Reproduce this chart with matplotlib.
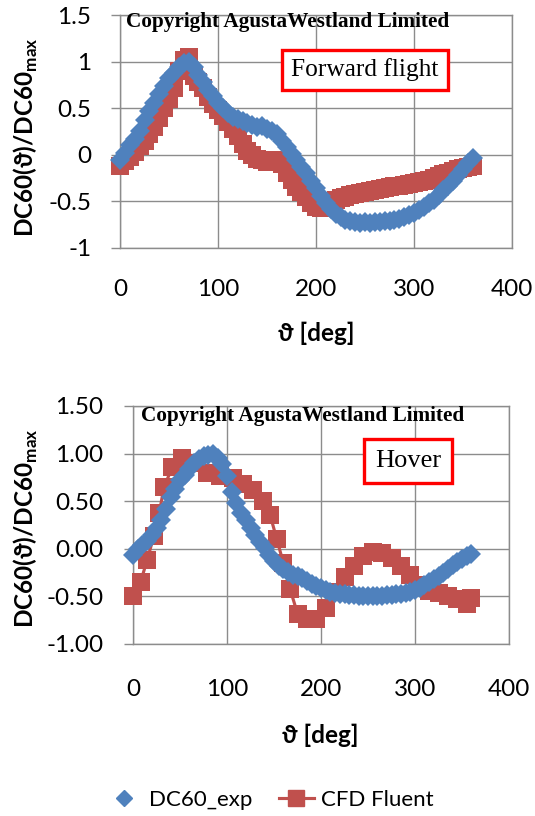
import matplotlib
matplotlib.use("Agg")
import matplotlib.pyplot as plt
from matplotlib.lines import Line2D

plt.rcParams['font.family'] = ['Lato', 'DejaVu Sans']
plt.rcParams['mathtext.fontset'] = 'custom'
plt.rcParams['mathtext.rm'] = 'Lato'
plt.rcParams['mathtext.bf'] = 'Lato:bold'

# ---------------- data ----------------
ff_exp_x = list(range(0, 361, 5))
ff_exp_y = [-0.06, 0.02, 0.10, 0.17, 0.26, 0.37, 0.47, 0.56, 0.65, 0.74,
            0.82, 0.88, 0.94, 0.98, 1.00, 0.94, 0.86, 0.78, 0.70, 0.63,
            0.56, 0.50, 0.45, 0.41, 0.38, 0.36, 0.34, 0.32, 0.30, 0.31,
            0.28, 0.26, 0.22, 0.15, 0.08, 0.01, -0.06, -0.13, -0.20, -0.28,
            -0.36, -0.44, -0.52, -0.58, -0.63, -0.67, -0.70, -0.71, -0.72, -0.73,
            -0.72, -0.73, -0.72, -0.72, -0.71, -0.71, -0.70, -0.69, -0.67, -0.65,
            -0.62, -0.59, -0.56, -0.52, -0.48, -0.43, -0.38, -0.33, -0.28, -0.22,
            -0.15, -0.09, -0.03]

ff_cfd_x = list(range(0, 361, 5))
ff_cfd_y = [-0.12, -0.07, -0.02, 0.03, 0.09, 0.15, 0.22, 0.30, 0.40, 0.50,
            0.60, 0.72, 0.90, 1.02, 1.05, 0.85, 0.78, 0.72, 0.62, 0.54,
            0.48, 0.42, 0.35, 0.28, 0.20, 0.12, 0.04, 0.00, -0.04, -0.06,
            -0.08, -0.08, -0.06, -0.10, -0.20, -0.27, -0.35, -0.40, -0.45, -0.52,
            -0.56, -0.57, -0.55, -0.50, -0.48, -0.46, -0.45, -0.43, -0.42, -0.41,
            -0.40, -0.39, -0.38, -0.37, -0.36, -0.35, -0.34, -0.33, -0.32, -0.31,
            -0.30, -0.29, -0.28, -0.27, -0.25, -0.23, -0.21, -0.19, -0.17, -0.15,
            -0.14, -0.13, -0.12]

hv_exp_x = list(range(0, 361, 5))
hv_exp_y = [-0.06, 0.00, 0.04, 0.08, 0.14, 0.22, 0.30, 0.42, 0.54, 0.63,
            0.72, 0.78, 0.84, 0.90, 0.94, 0.97, 0.99, 1.00, 0.95, 0.89,
            0.76, 0.60, 0.48, 0.38, 0.30, 0.22, 0.14, 0.07, 0.01, -0.06,
            -0.13, -0.18, -0.21, -0.24, -0.27, -0.29, -0.31, -0.34, -0.37, -0.39,
            -0.41, -0.43, -0.45, -0.46, -0.47, -0.48, -0.49, -0.49, -0.50, -0.50,
            -0.50, -0.50, -0.50, -0.50, -0.49, -0.49, -0.48, -0.47, -0.46, -0.45,
            -0.43, -0.41, -0.38, -0.35, -0.32, -0.29, -0.25, -0.21, -0.17, -0.14,
            -0.11, -0.08, -0.05]

hv_cfd_x = [0, 8, 15, 22, 28, 33, 42, 52, 64, 79, 93, 106, 117, 128, 138, 146,
            153, 160, 167, 175, 185, 195, 205, 215, 225, 235, 245, 255, 265, 275,
            285, 295, 305, 315, 325, 335, 345, 355, 360]
hv_cfd_y = [-0.50, -0.35, -0.12, 0.13, 0.38, 0.65, 0.86, 0.95, 0.90, 0.80,
            0.76, 0.74, 0.68, 0.62, 0.50, 0.35, 0.10, -0.15, -0.42, -0.68,
            -0.74, -0.74, -0.62, -0.45, -0.30, -0.18, -0.08, -0.03, -0.04, -0.10,
            -0.18, -0.28, -0.38, -0.44, -0.46, -0.50, -0.53, -0.58, -0.52]

x_ticks = [0, 100, 200, 300, 400]
y_ticks = [-1, -0.5, 0, 0.5, 1, 1.5]
ff_ylabels = ['-1', '-0.5', '0', '0.5', '1', '1.5']
hv_ylabels = ['-1.00', '-0.50', '0.00', '0.50', '1.00', '1.50']

BLUE = '#4F81BD'
RED = '#C0504D'
GRID = '#8C8C8C'

W, H = 535, 816
fig = plt.figure(figsize=(W / 100, H / 100), dpi=100)


def px_axes(l, t, r, b):
    return fig.add_axes([l / W, 1 - b / H, (r - l) / W, (b - t) / H])


def style(ax, ylabels, ypad, xpad):
    ax.set_xlim(0, 400)
    ax.set_ylim(-1, 1.5)
    ax.set_xticks(x_ticks)
    ax.set_xticklabels([str(v) for v in x_ticks])
    ax.set_yticks(y_ticks)
    ax.set_yticklabels(ylabels)
    ax.grid(True, color=GRID, linewidth=1.0)
    ax.set_axisbelow(True)
    for s in ax.spines.values():
        s.set_color(GRID)
        s.set_linewidth(1.0)
    ax.tick_params(axis='y', direction='out', length=6.5, width=1.0,
                   color=GRID, labelsize=17.5, pad=ypad)
    ax.tick_params(axis='x', length=0, labelsize=17.5, pad=xpad)


def draw(ax, ex, ey, cx, cy):
    ax.plot(cx, cy, color=RED, linewidth=2.25, marker='s', markersize=13,
            markeredgewidth=0, zorder=3, clip_on=False)
    ax.plot(ex, ey, linestyle='none', color=BLUE, marker='D', markersize=10.5,
            markeredgewidth=0, zorder=4, clip_on=False)


# ---- top: forward flight ----
ax1 = px_axes(120, 15, 512, 248)
style(ax1, ff_ylabels, 14, 22)
draw(ax1, ff_exp_x, ff_exp_y, ff_cfd_x, ff_cfd_y)
fig.text(126 / W, 1 - 22 / H, 'Copyright AgustaWestland Limited',
         family='Liberation Serif', weight='bold', fontsize=15.3,
         ha='left', va='center', zorder=6)
fig.text(365 / W, 1 - 70 / H, 'Forward flight', family='Liberation Serif',
         fontsize=18.3, ha='center', va='center', zorder=6,
         bbox=dict(boxstyle='square,pad=0.35', fc='white', ec='#FF0000', lw=2.4))
fig.text(26 / W, 1 - 137 / H, 'DC60(ϑ)/DC60$_{\\mathregular{max}}$',
         rotation=90, fontsize=17.5, weight='bold', ha='center', va='center')
fig.text(316 / W, 1 - 333 / H, 'ϑ [deg]', fontsize=17.5, weight='bold',
         ha='center', va='center')

# ---- bottom: hover ----
ax2 = px_axes(133, 406, 509, 644)
style(ax2, hv_ylabels, 15, 25)
draw(ax2, hv_exp_x, hv_exp_y, hv_cfd_x, hv_cfd_y)
fig.text(141 / W, 1 - 416 / H, 'Copyright AgustaWestland Limited',
         family='Liberation Serif', weight='bold', fontsize=15.3,
         ha='left', va='center', zorder=6)
fig.text(408 / W, 1 - 461 / H, 'Hover', family='Liberation Serif',
         fontsize=19, ha='center', va='center', zorder=6,
         bbox=dict(boxstyle='square,pad=0.4', fc='white', ec='#FF0000', lw=2.4))
fig.text(26 / W, 1 - 528 / H, 'DC60(ϑ)/DC60$_{\\mathregular{max}}$',
         rotation=90, fontsize=17.5, weight='bold', ha='center', va='center')
fig.text(320 / W, 1 - 735 / H, 'ϑ [deg]', fontsize=17.5, weight='bold',
         ha='center', va='center')

# ---- legend ----
handles = [Line2D([], [], linestyle='none', color=BLUE, marker='D', markersize=8.2),
           Line2D([], [], color=RED, linewidth=2.25, marker='s', markersize=11)]
fig.legend(handles, ['DC60_exp', 'CFD Fluent'], loc='center',
           bbox_to_anchor=(270 / W, 1 - 800 / H), ncol=2, frameon=False,
           fontsize=16, handlelength=1.6, handletextpad=0.3, columnspacing=1.2)

fig.savefig('out.png', dpi=100)
